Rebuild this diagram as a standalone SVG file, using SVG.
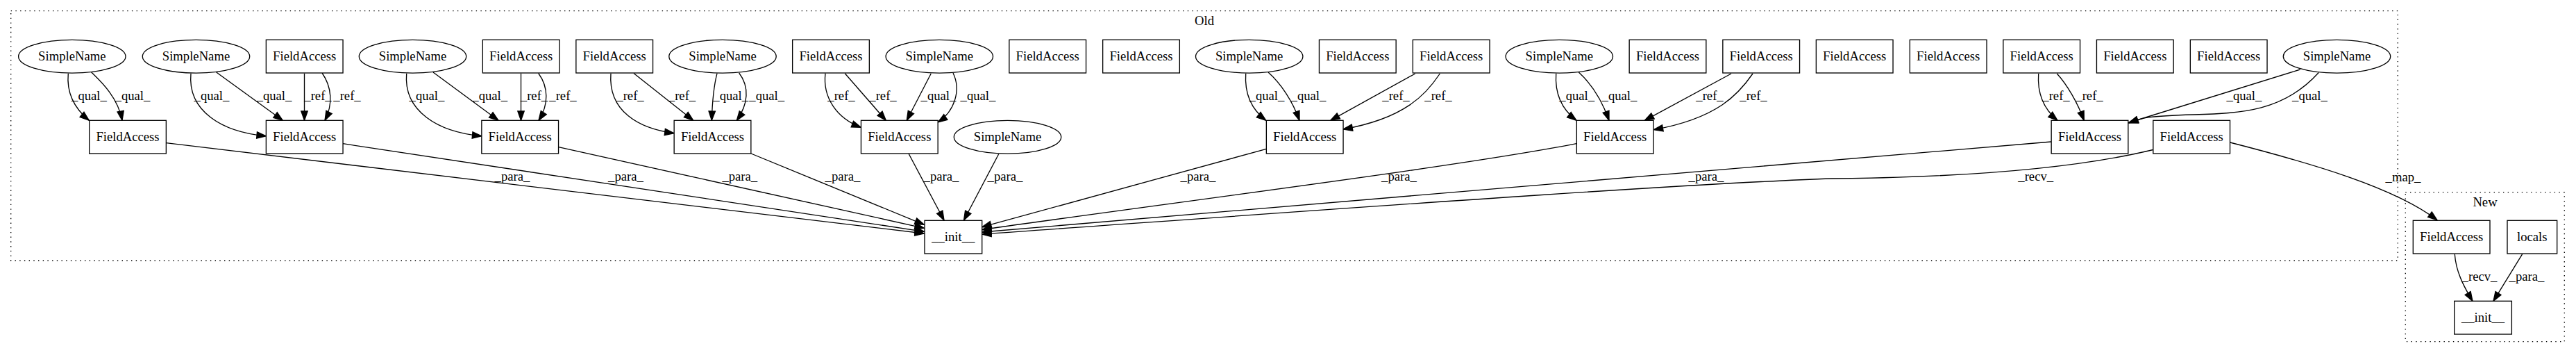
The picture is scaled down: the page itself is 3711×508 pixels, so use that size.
<svg xmlns="http://www.w3.org/2000/svg" width="3711" height="508" viewBox="0 0 3711 508">
<style>
.bg{fill:#fff}
.cl{fill:none;stroke:#000;stroke-width:1.33;stroke-dasharray:1.4,5.3}
.nd{fill:#fff;stroke:#000;stroke-width:1.33}
.t{font-family:"Liberation Serif","Times New Roman",serif;font-size:18.67px;text-anchor:middle;fill:#000}
.e{fill:none;stroke:#000;stroke-width:1.33;marker-end:url(#ah)}
</style>
<defs>
<marker id="ah" markerUnits="userSpaceOnUse" markerWidth="16" markerHeight="12" refX="13.3" refY="5" orient="auto" overflow="visible">
<path d="M0,0.33 L13.3,5 L0,9.67 Z" fill="#000" stroke="#000" stroke-width="1.33"/>
</marker>
</defs>
<rect class="bg" x="0" y="0" width="3711" height="508"/>
<g id="cluster-old">
<rect class="cl" x="15.7" y="15.7" width="3438.6" height="359.3"/>
<text class="t" x="1735" y="36">Old</text>
</g>
<g id="cluster-new">
<rect class="cl" x="3465.3" y="276.7" width="229" height="215"/>
<text class="t" x="3580" y="296.5">New</text>
</g>
<g id="edges">
<path class="e" d="M98.3,105.7 C96.5,125 100,150 128.3,173.3"/>
<text class="t" x="128.5" y="143.5">_qual_</text>
<path class="e" d="M131.7,104 C145,117 170,140 176,173.3"/>
<text class="t" x="191" y="143.5">_qual_</text>
<path class="e" d="M275,105.7 C270,160 320,190 383.3,195.7"/>
<text class="t" x="305" y="143.5">_qual_</text>
<path class="e" d="M311.7,104 L407.3,173.3"/>
<text class="t" x="395" y="143.5">_qual_</text>
<path class="e" d="M438.5,105.7 L438.5,173.3"/>
<text class="t" x="458" y="143.5">_ref_</text>
<path class="e" d="M464,105 C478,125 480,150 468,173.3"/>
<text class="t" x="500" y="143.5">_ref_</text>
<path class="e" d="M585.7,105.7 C581,160 631,190 693.8,195.7"/>
<text class="t" x="615" y="143.5">_qual_</text>
<path class="e" d="M624,104 L718,173.3"/>
<text class="t" x="705.7" y="143.5">_qual_</text>
<path class="e" d="M750.5,105.7 L750.5,173.3"/>
<text class="t" x="769.5" y="143.5">_ref_</text>
<path class="e" d="M775.7,105.5 C790,125 791,150 776,173.3"/>
<text class="t" x="811" y="143.5">_ref_</text>
<path class="e" d="M880,105.7 C876,160 920,185 971,191.7"/>
<text class="t" x="908" y="143.5">_ref_</text>
<path class="e" d="M913,105.5 L998.7,173.3"/>
<text class="t" x="982.5" y="143.5">_ref_</text>
<path class="e" d="M1033,105.7 C1028,125 1026,150 1025.3,173.3"/>
<text class="t" x="1052.7" y="143.5">_qual_</text>
<path class="e" d="M1064.7,105 C1080,125 1078,150 1061.3,173.3"/>
<text class="t" x="1104.7" y="143.5">_qual_</text>
<path class="e" d="M1189,105.7 C1185,140 1205,170 1240.3,183.3"/>
<text class="t" x="1212" y="143.5">_ref_</text>
<path class="e" d="M1217.3,105.7 L1276.3,173.3"/>
<text class="t" x="1272" y="143.5">_ref_</text>
<path class="e" d="M1341.3,105.7 L1306.3,173.3"/>
<text class="t" x="1352" y="143.5">_qual_</text>
<path class="e" d="M1373,105 C1385,130 1375,160 1351.3,176"/>
<text class="t" x="1409" y="143.5">_qual_</text>
<path class="e" d="M1794.7,105.7 C1793,130 1800,155 1823.7,173.3"/>
<text class="t" x="1825" y="143.5">_qual_</text>
<path class="e" d="M1827,104 C1845,120 1862,145 1872,173.3"/>
<text class="t" x="1885" y="143.5">_qual_</text>
<path class="e" d="M2038.7,106 L1916.7,173.3"/>
<text class="t" x="2011" y="143.5">_ref_</text>
<path class="e" d="M2074.3,106 C2055,135 2025,170 1935,186"/>
<text class="t" x="2072" y="143.5">_ref_</text>
<path class="e" d="M2241.7,105.7 C2240,130 2247,155 2271,173.3"/>
<text class="t" x="2271.7" y="143.5">_qual_</text>
<path class="e" d="M2274.3,104 C2292,120 2308,145 2318,173.3"/>
<text class="t" x="2333" y="143.5">_qual_</text>
<path class="e" d="M2494,106 L2369.3,173.3"/>
<text class="t" x="2463" y="143.5">_ref_</text>
<path class="e" d="M2525,106 C2505,135 2475,170 2382.3,186.7"/>
<text class="t" x="2526" y="143.5">_ref_</text>
<path class="e" d="M2936.7,106 C2935,130 2942,155 2964,173.3"/>
<text class="t" x="2962" y="143.5">_ref_</text>
<path class="e" d="M2963.3,106 C2978,122 2993,148 3002.3,173.3"/>
<text class="t" x="3010" y="143.5">_ref_</text>
<path class="e" d="M3313.7,100 L3066.7,176.5"/>
<text class="t" x="3233" y="143.5">_qual_</text>
<path class="e" d="M3340.3,104.5 C3290,160 3230,163 3160,165 S3085,170 3067,177"/>
<text class="t" x="3327.5" y="143.5">_qual_</text>
<path class="e" d="M239.3,205.7 L1331.3,336"/>
<text class="t" x="738" y="260">_para_</text>
<path class="e" d="M494,206.7 L1331.3,333.3"/>
<text class="t" x="901.5" y="260">_para_</text>
<path class="e" d="M804.7,211.7 L1331.3,328.3"/>
<text class="t" x="1065.8" y="260">_para_</text>
<path class="e" d="M1082,221 L1331.3,323.3"/>
<text class="t" x="1214" y="260">_para_</text>
<path class="e" d="M1309,221 L1360,317"/>
<text class="t" x="1356" y="260">_para_</text>
<path class="e" d="M1438.7,221.7 L1388.5,317"/>
<text class="t" x="1448" y="260">_para_</text>
<path class="e" d="M1824.3,214.3 L1414.7,326.7"/>
<text class="t" x="1726" y="260">_para_</text>
<path class="e" d="M2271,206.7 C2100,240 1700,290 1414.7,330.5"/>
<text class="t" x="2015.5" y="260">_para_</text>
<path class="e" d="M2955,204 L1414.7,334"/>
<text class="t" x="2458" y="260">_para_</text>
<path class="e" d="M3101.7,215.5 C3000,240 2850,255 2640,257 C2400,265 1800,310 1414.7,337"/>
<text class="t" x="2932.7" y="260">_recv_</text>
<path class="e" d="M3212.7,205 C3330,235 3450,270 3511,316.7"/>
<text class="t" x="3462" y="261">_map_</text>
<path class="e" d="M3536.3,365.7 C3538,390 3548,410 3562,433.3"/>
<text class="t" x="3572" y="404.3">_recv_</text>
<path class="e" d="M3633.7,365.7 L3592,433.3"/>
<text class="t" x="3640" y="404.3">_para_</text>
</g>
<g id="t1"><ellipse class="nd" cx="103.8" cy="81.2" rx="77.2" ry="23.9"/><text class="t" x="103.8" y="86.8">SimpleName</text></g>
<g id="t2"><ellipse class="nd" cx="282.5" cy="81.2" rx="77.2" ry="23.9"/><text class="t" x="282.5" y="86.8">SimpleName</text></g>
<g id="t3"><rect class="nd" x="383.35" y="57.3" width="110.7" height="47.7"/><text class="t" x="438.7" y="86.8">FieldAccess</text></g>
<g id="t4"><ellipse class="nd" cx="594.5" cy="81.2" rx="77.2" ry="23.9"/><text class="t" x="594.5" y="86.8">SimpleName</text></g>
<g id="t5"><rect class="nd" x="695.35" y="57.3" width="110.7" height="47.7"/><text class="t" x="750.7" y="86.8">FieldAccess</text></g>
<g id="t6"><rect class="nd" x="829.85" y="57.3" width="110.7" height="47.7"/><text class="t" x="885.2" y="86.8">FieldAccess</text></g>
<g id="t7"><ellipse class="nd" cx="1041" cy="81.2" rx="77.2" ry="23.9"/><text class="t" x="1041" y="86.8">SimpleName</text></g>
<g id="t8"><rect class="nd" x="1141.65" y="57.3" width="110.7" height="47.7"/><text class="t" x="1197" y="86.8">FieldAccess</text></g>
<g id="t9"><ellipse class="nd" cx="1353.3" cy="81.2" rx="77.2" ry="23.9"/><text class="t" x="1353.3" y="86.8">SimpleName</text></g>
<g id="t10"><rect class="nd" x="1453.85" y="57.3" width="110.7" height="47.7"/><text class="t" x="1509.2" y="86.8">FieldAccess</text></g>
<g id="t11"><rect class="nd" x="1588.65" y="57.3" width="110.7" height="47.7"/><text class="t" x="1644" y="86.8">FieldAccess</text></g>
<g id="t12"><ellipse class="nd" cx="1799.7" cy="81.2" rx="77.2" ry="23.9"/><text class="t" x="1799.7" y="86.8">SimpleName</text></g>
<g id="t13"><rect class="nd" x="1900.45" y="57.3" width="110.7" height="47.7"/><text class="t" x="1955.8" y="86.8">FieldAccess</text></g>
<g id="t14"><rect class="nd" x="2035.35" y="57.3" width="110.7" height="47.7"/><text class="t" x="2090.7" y="86.8">FieldAccess</text></g>
<g id="t15"><ellipse class="nd" cx="2246.3" cy="81.2" rx="77.2" ry="23.9"/><text class="t" x="2246.3" y="86.8">SimpleName</text></g>
<g id="t16"><rect class="nd" x="2347.15" y="57.3" width="110.7" height="47.7"/><text class="t" x="2402.5" y="86.8">FieldAccess</text></g>
<g id="t17"><rect class="nd" x="2481.85" y="57.3" width="110.7" height="47.7"/><text class="t" x="2537.2" y="86.8">FieldAccess</text></g>
<g id="t18"><rect class="nd" x="2616.35" y="57.3" width="110.7" height="47.7"/><text class="t" x="2671.7" y="86.8">FieldAccess</text></g>
<g id="t19"><rect class="nd" x="2751.35" y="57.3" width="110.7" height="47.7"/><text class="t" x="2806.7" y="86.8">FieldAccess</text></g>
<g id="t20"><rect class="nd" x="2885.85" y="57.3" width="110.7" height="47.7"/><text class="t" x="2941.2" y="86.8">FieldAccess</text></g>
<g id="t21"><rect class="nd" x="3020.45" y="57.3" width="110.7" height="47.7"/><text class="t" x="3075.8" y="86.8">FieldAccess</text></g>
<g id="t22"><rect class="nd" x="3155.35" y="57.3" width="110.7" height="47.7"/><text class="t" x="3210.7" y="86.8">FieldAccess</text></g>
<g id="t23"><ellipse class="nd" cx="3366.5" cy="81.2" rx="77.2" ry="23.9"/><text class="t" x="3366.5" y="86.8">SimpleName</text></g>
<g id="m1"><rect class="nd" x="128.65" y="173.3" width="110.7" height="47.7"/><text class="t" x="184" y="202.7">FieldAccess</text></g>
<g id="m2"><rect class="nd" x="383.35" y="173.3" width="110.7" height="47.7"/><text class="t" x="438.7" y="202.7">FieldAccess</text></g>
<g id="m3"><rect class="nd" x="693.85" y="173.3" width="110.7" height="47.7"/><text class="t" x="749.2" y="202.7">FieldAccess</text></g>
<g id="m4"><rect class="nd" x="971.15" y="173.3" width="110.7" height="47.7"/><text class="t" x="1026.5" y="202.7">FieldAccess</text></g>
<g id="m5"><rect class="nd" x="1240.45" y="173.3" width="110.7" height="47.7"/><text class="t" x="1295.8" y="202.7">FieldAccess</text></g>
<g id="m6"><ellipse class="nd" cx="1451.5" cy="197.2" rx="77.2" ry="23.9"/><text class="t" x="1451.5" y="202.7">SimpleName</text></g>
<g id="m7"><rect class="nd" x="1824.35" y="173.3" width="110.7" height="47.7"/><text class="t" x="1879.7" y="202.7">FieldAccess</text></g>
<g id="m8"><rect class="nd" x="2271.35" y="173.3" width="110.7" height="47.7"/><text class="t" x="2326.7" y="202.7">FieldAccess</text></g>
<g id="m9"><rect class="nd" x="2955.15" y="173.3" width="110.7" height="47.7"/><text class="t" x="3010.5" y="202.7">FieldAccess</text></g>
<g id="m10"><rect class="nd" x="3101.85" y="173.3" width="110.7" height="47.7"/><text class="t" x="3157.2" y="202.7">FieldAccess</text></g>
<g id="init"><rect class="nd" x="1332" y="317.3" width="82.7" height="47.7"/><text class="t" x="1373.3" y="346.8">__init__</text></g>
<g id="nfa"><rect class="nd" x="3476.3" y="317.3" width="110.7" height="47.7"/><text class="t" x="3531.7" y="346.8">FieldAccess</text></g>
<g id="nlocals"><rect class="nd" x="3612" y="317.3" width="71.7" height="47.7"/><text class="t" x="3647.8" y="346.8">locals</text></g>
<g id="ninit"><rect class="nd" x="3535.7" y="433.3" width="82.7" height="47.7"/><text class="t" x="3577" y="462.8">__init__</text></g>
</svg>
